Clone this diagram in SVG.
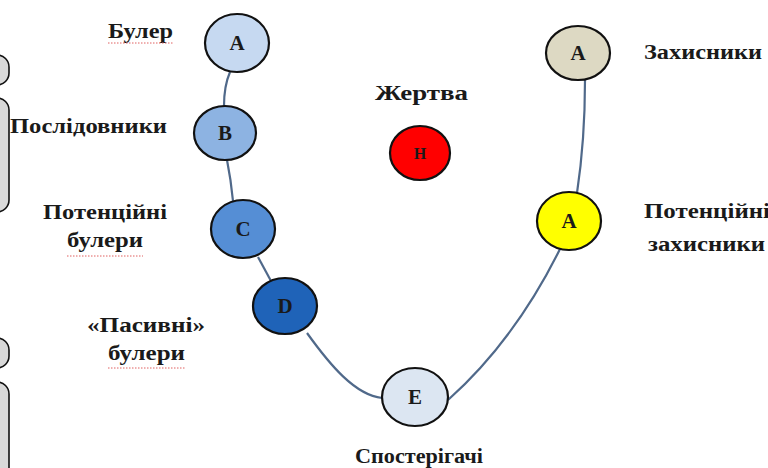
<svg xmlns="http://www.w3.org/2000/svg" width="768" height="468" viewBox="0 0 768 468">
<style>
.node{stroke:#111;stroke-width:2.2}
.nl{font-family:'Liberation Serif','Times New Roman','DejaVu Serif',serif;font-weight:700;font-size:21px;fill:#1a1a1a;text-anchor:middle}
.lbl{font-family:'Liberation Serif','Times New Roman','DejaVu Serif',serif;font-weight:700;font-size:20px;fill:#1a1a1a}
.con{fill:none;stroke:#50698a;stroke-width:2.2}
.side{fill:#d9d9d9;stroke:#111;stroke-width:1.6}
.sp{fill:none;stroke:#e06060;stroke-width:1;stroke-dasharray:1.5 1.5}
</style>
<rect width="768" height="468" fill="#ffffff"/>
<g id="side-shapes">
<rect class="side" x="-30" y="55" width="39" height="30" rx="12"/>
<rect class="side" x="-30" y="98" width="39" height="114" rx="12"/>
<rect class="side" x="-30" y="338" width="39" height="30" rx="12"/>
<rect class="side" x="-30" y="382" width="39" height="110" rx="12"/>
</g>
<g id="connectors">
<path class="con" d="M230,72 Q224,86 224,106"/>
<path class="con" d="M227,160 Q231,180 233,201"/>
<path class="con" d="M258,257 L271,281"/>
<path class="con" d="M307,333 C330,365 355,395 382,398"/>
<path class="con" d="M448,400 Q515,340 560,249"/>
<path class="con" d="M577,193 Q585,140 585,80"/>
</g>
<g id="node-A-bully">
<ellipse class="node" cx="237" cy="43" rx="32" ry="29" fill="#c6d9f1"/>
<text class="nl" x="237" y="50">A</text>
</g>
<g id="node-B">
<ellipse class="node" cx="225" cy="133" rx="31" ry="27" fill="#8db3e2"/>
<text class="nl" x="225" y="140">B</text>
</g>
<g id="node-C">
<ellipse class="node" cx="243" cy="229" rx="32" ry="29" fill="#558ed5"/>
<text class="nl" x="243" y="236">C</text>
</g>
<g id="node-D">
<ellipse class="node" cx="285" cy="306" rx="32" ry="28" fill="#1f63b8"/>
<text class="nl" x="285" y="313">D</text>
</g>
<g id="node-E">
<ellipse class="node" cx="415" cy="397" rx="33" ry="29" fill="#dce6f2"/>
<text class="nl" x="415" y="404">E</text>
</g>
<g id="node-H">
<ellipse class="node" cx="420" cy="153" rx="30" ry="27" fill="#ff0000"/>
<text class="nl" x="420" y="159" style="font-size:16px">H</text>
</g>
<g id="node-A-defender">
<ellipse class="node" cx="578" cy="53" rx="32" ry="27" fill="#ddd9c3"/>
<text class="nl" x="578" y="60">A</text>
</g>
<g id="node-A-potential">
<ellipse class="node" cx="569" cy="221" rx="32" ry="29" fill="#ffff00"/>
<text class="nl" x="569" y="228">A</text>
</g>
<g id="labels">
<text class="lbl" x="108" y="38" textLength="65" lengthAdjust="spacingAndGlyphs">Булер</text>
<path class="sp" d="M108,43 H173"/>
<text class="lbl" x="10" y="133" textLength="157" lengthAdjust="spacingAndGlyphs">Послідовники</text>
<text class="lbl" x="43" y="219" textLength="124" lengthAdjust="spacingAndGlyphs">Потенційні</text>
<text class="lbl" x="67" y="247" textLength="76" lengthAdjust="spacingAndGlyphs">булери</text>
<path class="sp" d="M67,256 H143"/>
<text class="lbl" x="87" y="332" textLength="118" lengthAdjust="spacingAndGlyphs">«Пасивні»</text>
<text class="lbl" x="108" y="360" textLength="77" lengthAdjust="spacingAndGlyphs">булери</text>
<path class="sp" d="M108,368 H185"/>
<text class="lbl" x="375" y="100" textLength="93" lengthAdjust="spacingAndGlyphs">Жертва</text>
<text class="lbl" x="644" y="59" textLength="118" lengthAdjust="spacingAndGlyphs">Захисники</text>
<text class="lbl" x="644" y="218" textLength="126" lengthAdjust="spacingAndGlyphs">Потенційні</text>
<text class="lbl" x="648" y="251" textLength="117" lengthAdjust="spacingAndGlyphs">захисники</text>
<text class="lbl" x="355" y="463" textLength="128" lengthAdjust="spacingAndGlyphs">Спостерігачі</text>
</g>
</svg>
